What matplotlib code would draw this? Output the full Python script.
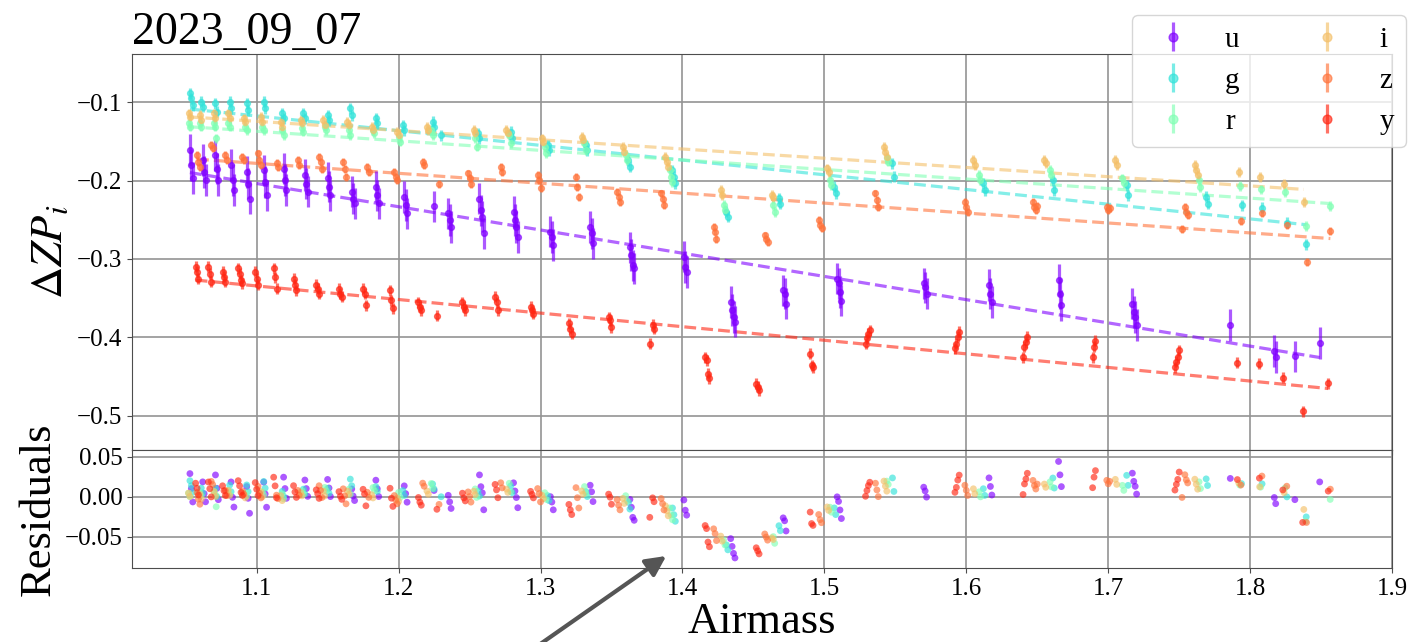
import numpy as np
import matplotlib
matplotlib.use("Agg")
import matplotlib.pyplot as plt

plt.rcParams['font.family'] = ['Liberation Serif', 'DejaVu Serif']
plt.rcParams['mathtext.fontset'] = 'stix'

# ---------------- data ----------------
bands = ['u', 'g', 'r', 'i', 'z', 'y']

u_am = [1.053, 1.054, 1.055, 1.062, 1.063, 1.064, 1.071, 1.072, 1.073, 1.082, 1.083, 1.084,
        1.093, 1.094, 1.095, 1.105, 1.106, 1.107, 1.119, 1.120, 1.121, 1.134, 1.135, 1.136,
        1.150, 1.151, 1.152, 1.167, 1.168, 1.169, 1.184, 1.185, 1.186, 1.204, 1.205, 1.206,
        1.225, 1.235, 1.236, 1.237, 1.257, 1.258, 1.259, 1.260, 1.281, 1.282, 1.283, 1.284,
        1.307, 1.308, 1.309, 1.335, 1.336, 1.337, 1.363, 1.364, 1.365, 1.366,
        1.401, 1.402, 1.403, 1.434, 1.435, 1.436, 1.437, 1.471, 1.472, 1.473,
        1.509, 1.510, 1.511, 1.512, 1.570, 1.571, 1.572, 1.616, 1.617, 1.618,
        1.665, 1.666, 1.667, 1.717, 1.718, 1.719, 1.720, 1.786, 1.817, 1.818, 1.8315, 1.849]
u_dzp = [-0.161, -0.180, -0.197, -0.174, -0.189, -0.1995, -0.168, -0.185, -0.1995, -0.180, -0.1995, -0.212,
         -0.189, -0.204, -0.223, -0.187, -0.202, -0.219, -0.185, -0.1995, -0.212, -0.193, -0.204, -0.214,
         -0.197, -0.208, -0.219, -0.214, -0.223, -0.229, -0.208, -0.219, -0.229, -0.221, -0.231, -0.242,
         -0.233, -0.242, -0.2505, -0.259, -0.223, -0.238, -0.246, -0.2675, -0.240, -0.2505, -0.259, -0.272,
         -0.265, -0.272, -0.282, -0.259, -0.2675, -0.280, -0.285, -0.295, -0.308, -0.312,
         -0.297, -0.310, -0.3165, -0.355, -0.365, -0.374, -0.380, -0.340, -0.344, -0.357,
         -0.325, -0.331, -0.342, -0.353, -0.331, -0.336, -0.344, -0.333, -0.344, -0.355,
         -0.327, -0.344, -0.359, -0.357, -0.3675, -0.374, -0.384, -0.384, -0.417, -0.425, -0.424, -0.407]

g_am = [1.053, 1.054, 1.055, 1.061, 1.062, 1.071, 1.072, 1.081, 1.082, 1.093, 1.094, 1.105, 1.106,
        1.118, 1.119, 1.133, 1.134, 1.150, 1.151, 1.166, 1.167, 1.184, 1.185, 1.203, 1.204,
        1.224, 1.225, 1.230, 1.256, 1.257, 1.279, 1.280, 1.305, 1.306, 1.332, 1.333, 1.362, 1.363,
        1.393, 1.394, 1.395, 1.431, 1.432, 1.468, 1.469, 1.507, 1.508, 1.548, 1.549,
        1.612, 1.613, 1.661, 1.662, 1.713, 1.714, 1.769, 1.770, 1.7939, 1.8084, 1.8259, 1.8395]
g_dzp = [-0.0889, -0.0953, -0.1038, -0.0996, -0.106, -0.1017, -0.1124, -0.0996, -0.1081, -0.1017, -0.1102, -0.0996, -0.1081,
         -0.1144, -0.1208, -0.1144, -0.1208, -0.1166, -0.123, -0.1081, -0.1166, -0.1208, -0.1272, -0.1293, -0.1357,
         -0.1251, -0.1315, -0.1421, -0.140, -0.1463, -0.1379, -0.1463, -0.1548, -0.1612, -0.1548, -0.1612, -0.174, -0.1825,
         -0.1867, -0.1953, -0.2037, -0.2399, -0.2463, -0.2229, -0.2293, -0.208, -0.2165, -0.1782, -0.1953,
         -0.2037, -0.2122, -0.1995, -0.2122, -0.2059, -0.2186, -0.2208, -0.2293, -0.2314, -0.2344, -0.254, -0.2815]

r_am = [1.052, 1.053, 1.060, 1.061, 1.070, 1.071, 1.0715, 1.080, 1.081, 1.092, 1.093, 1.104, 1.105,
        1.118, 1.119, 1.132, 1.133, 1.148, 1.149, 1.165, 1.166, 1.182, 1.183, 1.200, 1.201,
        1.223, 1.224, 1.254, 1.255, 1.278, 1.279, 1.303, 1.304, 1.331, 1.332, 1.360, 1.361,
        1.391, 1.392, 1.393, 1.429, 1.430, 1.464, 1.465, 1.504, 1.505, 1.544, 1.545,
        1.609, 1.610, 1.659, 1.660, 1.710, 1.711, 1.764, 1.765, 1.7927, 1.8074, 1.8246, 1.839, 1.8564]
r_dzp = [-0.127, -0.1315, -0.1272, -0.1315, -0.1272, -0.1315, -0.1463, -0.1272, -0.1315, -0.1315, -0.1357, -0.1315, -0.1357,
         -0.1357, -0.1421, -0.1336, -0.1379, -0.1315, -0.1357, -0.1357, -0.1421, -0.1357, -0.140, -0.1442, -0.1506,
         -0.1357, -0.1421, -0.1463, -0.157, -0.1421, -0.1527, -0.157, -0.1655, -0.1527, -0.1612, -0.1676, -0.174,
         -0.1867, -0.1953, -0.2017, -0.2314, -0.2378, -0.2314, -0.2399, -0.1995, -0.2059, -0.1718, -0.1761,
         -0.1931, -0.1995, -0.1867, -0.1931, -0.1973, -0.2037, -0.1995, -0.208, -0.2071, -0.2114, -0.2144, -0.258, -0.2327]

i_am = [1.052, 1.053, 1.060, 1.061, 1.070, 1.071, 1.080, 1.081, 1.091, 1.092, 1.103, 1.104,
        1.117, 1.118, 1.131, 1.132, 1.147, 1.148, 1.164, 1.165, 1.181, 1.182, 1.199, 1.200,
        1.220, 1.221, 1.253, 1.254, 1.276, 1.277, 1.301, 1.302, 1.329, 1.330, 1.358, 1.359,
        1.388, 1.389, 1.390, 1.427, 1.428, 1.463, 1.464, 1.502, 1.503, 1.542, 1.543, 1.544,
        1.605, 1.606, 1.655, 1.656, 1.705, 1.706, 1.761, 1.762, 1.763, 1.792, 1.8067, 1.8239, 1.8378]
i_dzp = [-0.1144, -0.1187, -0.1166, -0.123, -0.1144, -0.1208, -0.1144, -0.1208, -0.1208, -0.1251, -0.1187, -0.1251,
         -0.1251, -0.1315, -0.123, -0.1272, -0.123, -0.1293, -0.1251, -0.1293, -0.1315, -0.1357, -0.1379, -0.1421,
         -0.1315, -0.1357, -0.1357, -0.140, -0.1357, -0.140, -0.1463, -0.1506, -0.1442, -0.1485, -0.157, -0.1634,
         -0.1698, -0.1761, -0.1825, -0.2122, -0.2186, -0.2186, -0.2208, -0.1846, -0.189, -0.157, -0.1634, -0.1698,
         -0.174, -0.1804, -0.174, -0.1782, -0.174, -0.1804, -0.1804, -0.1867, -0.1931, -0.1889, -0.1953, -0.2046, -0.2272]

z_am = [1.058, 1.059, 1.060, 1.068, 1.069, 1.078, 1.079, 1.090, 1.091, 1.101, 1.102, 1.103,
        1.114, 1.115, 1.129, 1.130, 1.144, 1.145, 1.146, 1.161, 1.162, 1.163, 1.178, 1.179,
        1.197, 1.198, 1.199, 1.217, 1.218, 1.2285, 1.249, 1.250, 1.251, 1.272, 1.273,
        1.298, 1.299, 1.300, 1.325, 1.326, 1.327, 1.354, 1.355, 1.356, 1.385, 1.386, 1.387,
        1.422, 1.423, 1.424, 1.458, 1.459, 1.460, 1.496, 1.497, 1.498, 1.536, 1.537, 1.538,
        1.599, 1.600, 1.601, 1.647, 1.648, 1.649, 1.650, 1.699, 1.700, 1.701,
        1.752, 1.754, 1.755, 1.756, 1.7935, 1.8083, 1.8258, 1.8397, 1.8565]
z_dzp = [-0.1676, -0.176, -0.1825, -0.155, -0.159, -0.1676, -0.174, -0.170, -0.174, -0.1655, -0.174, -0.180,
         -0.178, -0.1825, -0.174, -0.180, -0.170, -0.176, -0.185, -0.176, -0.185, -0.195, -0.1825, -0.189,
         -0.189, -0.195, -0.1995, -0.176, -0.180, -0.204, -0.191, -0.197, -0.204, -0.1825, -0.189,
         -0.193, -0.1995, -0.210, -0.1953, -0.208, -0.221, -0.214, -0.221, -0.227, -0.2165, -0.223, -0.231,
         -0.259, -0.265, -0.274, -0.270, -0.274, -0.278, -0.2505, -0.257, -0.261, -0.2165, -0.225, -0.2335,
         -0.227, -0.2335, -0.240, -0.227, -0.2335, -0.238, -0.232, -0.2335, -0.238, -0.235,
         -0.2616, -0.2335, -0.240, -0.244, -0.2514, -0.242, -0.2569, -0.304, -0.2645]

y_am = [1.057, 1.058, 1.059, 1.066, 1.067, 1.068, 1.076, 1.077, 1.078, 1.087, 1.088, 1.089, 1.090,
        1.099, 1.100, 1.101, 1.112, 1.113, 1.114, 1.126, 1.127, 1.128, 1.142, 1.143, 1.144,
        1.158, 1.159, 1.160, 1.175, 1.176, 1.177, 1.194, 1.195, 1.196, 1.214, 1.215, 1.216,
        1.227, 1.245, 1.246, 1.247, 1.268, 1.269, 1.270, 1.293, 1.294, 1.295, 1.320, 1.321, 1.322,
        1.348, 1.349, 1.350, 1.377, 1.379, 1.380, 1.416, 1.417, 1.418, 1.419, 1.452, 1.453, 1.454,
        1.490, 1.491, 1.492, 1.529, 1.530, 1.531, 1.532, 1.592, 1.593, 1.594, 1.595,
        1.640, 1.641, 1.642, 1.643, 1.689, 1.690, 1.691, 1.747, 1.748, 1.749, 1.750,
        1.791, 1.8065, 1.823, 1.837, 1.855]
y_dzp = [-0.310, -0.3165, -0.325, -0.310, -0.3186, -0.329, -0.3165, -0.3228, -0.329, -0.312, -0.3186, -0.327, -0.331,
         -0.3165, -0.325, -0.333, -0.312, -0.323, -0.338, -0.325, -0.333, -0.340, -0.333, -0.338, -0.344,
         -0.338, -0.344, -0.348, -0.338, -0.344, -0.359, -0.340, -0.3526, -0.363, -0.355, -0.361, -0.365,
         -0.372, -0.355, -0.361, -0.365, -0.348, -0.355, -0.365, -0.361, -0.365, -0.3695, -0.382, -0.389, -0.395,
         -0.374, -0.378, -0.387, -0.408, -0.384, -0.389, -0.425, -0.429, -0.446, -0.452, -0.459, -0.463, -0.467,
         -0.421, -0.4355, -0.438, -0.408, -0.401, -0.395, -0.391, -0.414, -0.408, -0.399, -0.393,
         -0.425, -0.412, -0.406, -0.399, -0.425, -0.412, -0.404, -0.438, -0.431, -0.425, -0.416,
         -0.4325, -0.4334, -0.451, -0.494, -0.458]

# typical error per band
band_err = [0.020, 0.007, 0.006, 0.006, 0.005, 0.007]
# linear fits: value at airmass 1 and slope
fit_zp1 = [-0.1742, -0.099, -0.1251, -0.1128, -0.1655, -0.317]
fit_slope = [-0.296, -0.1874, -0.1217, -0.1176, -0.1266, -0.1731]

band_am = [u_am, g_am, r_am, i_am, z_am, y_am]
band_dzp = [u_dzp, g_dzp, r_dzp, i_dzp, z_dzp, y_dzp]

# ---------------- style ----------------
cmap = plt.get_cmap('rainbow')
cpos = [0.0, 0.35, 0.5, 0.73, 0.85, 0.95]
colors = [cmap(c) for c in cpos]

fig = plt.figure(figsize=(14.12, 6.42), dpi=100)
ax = fig.add_axes([0.0935, 0.2995, 0.8924, 0.6164])
axr = fig.add_axes([0.0935, 0.1153, 0.8924, 0.1843], sharex=ax)

for k, b in enumerate(bands):
    X = np.array(band_am[k])
    Z = np.array(band_dzp[k])
    col = colors[k]
    ax.errorbar(X, Z, yerr=band_err[k], fmt='o', color=col, ms=4.2, elinewidth=2.3,
                alpha=0.65, label=b, zorder=3)
    xl = np.array([X.min(), X.max()])
    ax.plot(xl, fit_zp1[k] + fit_slope[k] * (xl - 1.0), ls='--', color=col,
            lw=2.3, alpha=0.6, zorder=2)
    res = Z - (fit_zp1[k] + fit_slope[k] * (X - 1.0))
    axr.scatter(X, res, s=24, color=col, alpha=0.65, edgecolors='none', zorder=3)

for a in (ax, axr):
    a.grid(True, color='#949494', lw=1.2)
    a.set_axisbelow(True)
    a.tick_params(labelsize=18, color='0.3')
    for sp in a.spines.values():
        sp.set_color('0.3')

ax.set_xlim(1.0122, 1.9)
ax.set_ylim(-0.543, -0.0388)
ax.set_yticks([-0.5, -0.4, -0.3, -0.2, -0.1])
ax.tick_params(labelbottom=False)
axr.set_ylim(-0.089, 0.0588)
axr.set_yticks([-0.05, 0.0, 0.05])
axr.set_xticks([1.1, 1.2, 1.3, 1.4, 1.5, 1.6, 1.7, 1.8, 1.9])

ax.set_title('2023_09_07', loc='left', fontsize=33, pad=7)
ax.set_ylabel(r'$\Delta ZP_i$', fontsize=32)
axr.set_ylabel('Residuals', fontsize=32)
axr.set_xlabel('Airmass', fontsize=32, labelpad=2)

ax.legend(loc='upper right', bbox_to_anchor=(1.011, 1.099), ncol=2, fontsize=21,
          borderaxespad=0, columnspacing=2.0, markerscale=1.5)

axr.annotate('', xy=(1.3886, -0.074), xytext=(1.295, -0.19), xycoords='data',
             arrowprops=dict(arrowstyle='-|>', color='#555555', lw=3, mutation_scale=30,
                             shrinkA=0, shrinkB=0),
             annotation_clip=False)

fig.savefig('out.png', dpi=100)
